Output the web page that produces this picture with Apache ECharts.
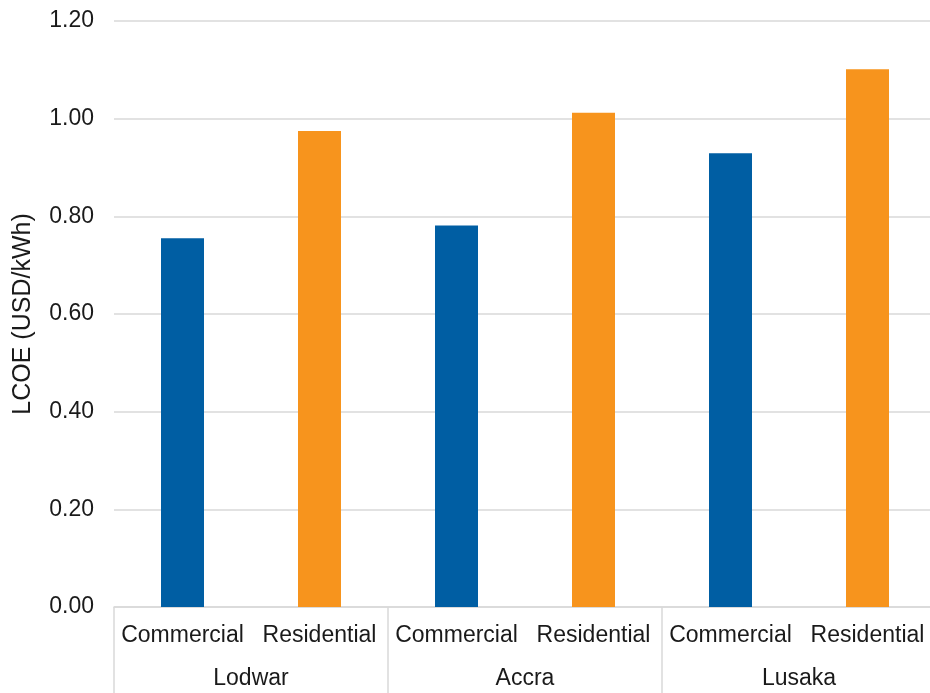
<!DOCTYPE html>
<html>
<head>
<meta charset="utf-8">
<script src="https://cdn.jsdelivr.net/npm/echarts@6/dist/echarts.min.js"></script>
<style>html,body{margin:0;padding:0;background:#fff;}#c{width:930px;height:693px;}</style>
</head>
<body>
<div id="c"></div>
<script>
const cities = ['Lodwar', 'Accra', 'Lusaka'];
const segments = ['Commercial', 'Residential'];
const commercial = [0.755, 0.781, 0.929];
const residential = [0.975, 1.012, 1.101];
const yTicks = [0, 0.2, 0.4, 0.6, 0.8, 1.0, 1.2];

const innerCats = [];
const comData = [];
const resData = [];
cities.forEach((c, i) => {
  innerCats.push(segments[0], segments[1]);
  comData.push(commercial[i], null);
  resData.push(null, residential[i]);
});

const font = 'Liberation Sans, Arial, sans-serif';
const txt = '#1a1a1a';
const chart = echarts.init(document.getElementById('c'));
chart.setOption({
  animation: false,
  grid: { left: 114, top: 21, width: 822, bottom: 86, containLabel: false, outerBoundsMode: 'none' },
  xAxis: [
    {
      type: 'category', data: innerCats, position: 'bottom',
      axisLine: { show: true, lineStyle: { color: '#d9d9d9', width: 1.5 } },
      axisTick: { show: false },
      axisLabel: { interval: 0, margin: 17, fontSize: 23, fontFamily: font, color: txt }
    },
    {
      type: 'category', data: cities, position: 'bottom', offset: 0,
      axisLine: { show: false },
      axisTick: { show: true, interval: 0, length: 90, lineStyle: { color: '#d9d9d9', width: 1.5 } },
      axisLabel: { interval: 0, margin: 60, fontSize: 23, fontFamily: font, color: txt }
    }
  ],
  yAxis: {
    type: 'value', min: yTicks[0], max: yTicks[yTicks.length - 1], interval: 0.2,
    name: 'LCOE (USD/kWh)', nameLocation: 'middle', nameGap: 78, nameRotate: 90,
    nameTextStyle: { fontSize: 25, fontFamily: font, color: txt },
    axisLine: { show: false }, axisTick: { show: false },
    axisLabel: { margin: 20, fontSize: 23, fontFamily: font, color: txt, formatter: v => v.toFixed(2) },
    splitLine: { lineStyle: { color: '#d9d9d9', width: 1.5 } }
  },
  series: [
    { type: 'bar', name: 'Commercial', data: comData, xAxisIndex: 0, barWidth: 43, barGap: '-100%', itemStyle: { color: '#005ea3' } },
    { type: 'bar', name: 'Residential', data: resData, xAxisIndex: 0, barWidth: 43, barGap: '-100%', itemStyle: { color: '#f7941d' } }
  ]
});
</script>
</body>
</html>
